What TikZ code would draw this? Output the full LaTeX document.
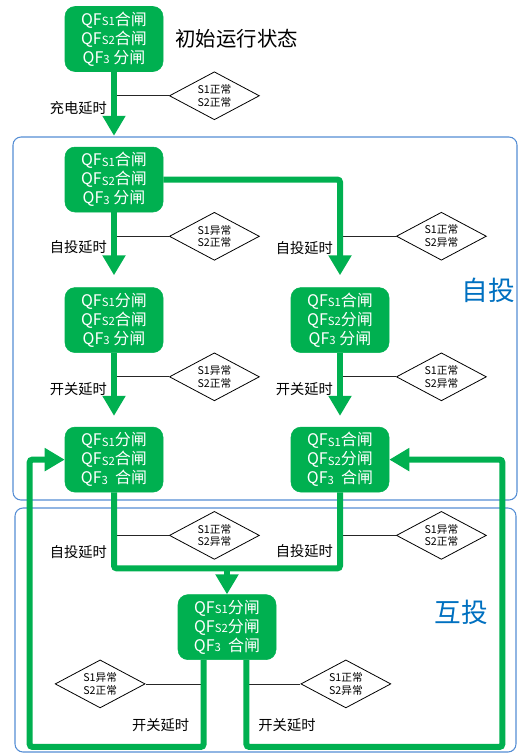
\documentclass[tikz,border=0pt]{standalone}
\usepackage{fontspec}
\setmainfont{Noto Sans CJK SC}
\usepackage{tikz}
\usetikzlibrary{shapes.geometric,positioning,arrows.meta,backgrounds,calc}
\definecolor{flowgreen}{RGB}{0,176,80}
\definecolor{zoneblue}{RGB}{84,141,212}
\definecolor{zonetext}{RGB}{0,112,192}
\newcommand{\qfs}[1]{QF\raisebox{-0.3pt}{\fontsize{8.5}{8.5}\selectfont #1}}
\tikzset{
  qfbox/.style={draw=flowgreen,fill=flowgreen,rounded corners=7.5pt,align=center,text=white,
    minimum width=73.5pt,minimum height=48.75pt,inner sep=2pt,font=\fontsize{12}{14.3}\selectfont},
  condbox/.style={diamond,draw,line width=0.6pt,fill=white,aspect=1.9,align=center,
    minimum width=67.5pt,minimum height=36pt,inner sep=1pt,font=\fontsize{8}{9.5}\selectfont},
  flowarr/.style={-{Triangle[length=15pt,width=16.5pt]},line width=4.5pt,draw=flowgreen,rounded corners=2pt},
  flowline/.style={line width=4.5pt,draw=flowgreen,rounded corners=2pt},
  condline/.style={line width=0.6pt,draw=black!85},
  delaylabel/.style={font=\fontsize{10.7}{12}\selectfont,inner sep=1pt},
  zoneframe/.style={draw=zoneblue,line width=0.8pt,rounded corners=6pt},
  zonelabel/.style={text=zonetext,font=\fontsize{20}{24}\selectfont}
}

\begin{document}
\begin{tikzpicture}[x=0.75pt, y=-0.75pt, node distance=56.25pt and 95.6pt]
  \useasboundingbox (0,0) rectangle (518,754);
  % switch states
  \node[qfbox] (b0) at (114,39) {\qfs{S1}合闸\\\qfs{S2}合闸\\\qfs{3} 分闸};
  \node[right=9pt of b0,inner sep=0pt,font=\fontsize{15.3}{18}\selectfont] (title) {初始运行状态};
  \node[qfbox,below=of b0] (b1) {\qfs{S1}合闸\\\qfs{S2}合闸\\\qfs{3} 分闸};
  \node[qfbox,below=of b1] (b2l) {\qfs{S1}分闸\\\qfs{S2}合闸\\\qfs{3} 分闸};
  \node[qfbox,right=of b2l] (b2r) {\qfs{S1}合闸\\\qfs{S2}分闸\\\qfs{3} 分闸};
  \node[qfbox,below=55.5pt of b2l] (b3l) {\qfs{S1}分闸\\\qfs{S2}合闸\\\qfs{3}\ \ 合闸};
  \node[qfbox,right=of b3l] (b3r) {\qfs{S1}合闸\\\qfs{S2}分闸\\\qfs{3}\ \ 合闸};
  \coordinate (mid) at ($(b3l.south)!0.5!(b3r.south)$);
  \coordinate[below=57pt of mid] (merge);
  \node[qfbox,below=19.5pt of merge] (b4) {\qfs{S1}分闸\\\qfs{S2}分闸\\\qfs{3}\ \ 合闸};
  \coordinate (outl) at ([xshift=-17.6pt]b4.south);
  \coordinate (outr) at ([xshift=14.6pt]b4.south);
  \coordinate (bot) at ([yshift=-65.25pt]b4.south);
  \coordinate (lcol) at ([xshift=-26.25pt]b3l.west);
  \coordinate (rcol) at ([xshift=84.75pt]b3r.east);

  % transitions
  \draw[flowarr,shorten >=8.25pt] (b0) -- coordinate[pos=0.32] (k0) node[delaylabel,pos=0.48,left=2pt]{充电延时} (b1);
  \draw[flowarr,shorten >=9pt] (b1) -- coordinate[pos=0.32] (k1) node[delaylabel,pos=0.47,left=2pt]{自投延时} (b2l);
  \draw[flowarr,shorten >=9pt] (b1.east) -| coordinate[pos=0.763] (k2) node[delaylabel,pos=0.819,left=2pt]{自投延时} (b2r);
  \draw[flowarr,shorten >=8.25pt] (b2l) -- coordinate[pos=0.324] (k3) node[delaylabel,pos=0.486,left=2pt]{开关延时} (b3l);
  \draw[flowarr,shorten >=8.25pt] (b2r) -- coordinate[pos=0.324] (k4) node[delaylabel,pos=0.486,left=2pt]{开关延时} (b3r);
  \draw[flowline] (b3l.south) -- coordinate[pos=0.566] (k5) node[delaylabel,pos=0.78,left=2pt]{自投延时} (b3l.south |- merge)
    -- (b3r.south |- merge) -- coordinate[pos=0.434] (k6) node[delaylabel,pos=0.224,left=2pt]{自投延时} (b3r.south);
  \draw[flowarr] (merge) -- (b4);
  \draw[flowarr] (outl) -- coordinate[pos=0.276] (k7) node[delaylabel,pos=0.747,left=7.5pt]{开关延时} (outl |- bot) -| (lcol) -- (b3l.west);
  \draw[flowarr] (outr) -- coordinate[pos=0.276] (k8) node[delaylabel,pos=0.747,right=5.75pt]{开关延时} (outr |- bot) -| (rcol) -- (b3r.east);

  % conditions
  \node[condbox,right=41.25pt of k0] (d0) {S1正常\\S2正常};
  \node[condbox,right=41.25pt of k1] (d1) {S1异常\\S2正常};
  \node[condbox,right=42pt of k2] (d2) {S1正常\\S2异常};
  \node[condbox,right=41.25pt of k3] (d3) {S1异常\\S2正常};
  \node[condbox,right=42pt of k4] (d4) {S1正常\\S2异常};
  \node[condbox,right=41.25pt of k5] (d5) {S1正常\\S2异常};
  \node[condbox,right=42pt of k6] (d6) {S1异常\\S2正常};
  \node[condbox,left=43.5pt of k7] (d7) {S1异常\\S2正常};
  \node[condbox,right=40.5pt of k8] (d8) {S1正常\\S2异常};

  \node[zonelabel] (zitou) at (488,290) {自投};
  \node[zonelabel] (hutou) at (461,612) {互投};

  \begin{scope}[on background layer]
    \draw[zoneframe] (13,137) rectangle (517,500);
    \draw[zoneframe] (15,508) rectangle (516,752);
    \foreach \k/\d in {k0/d0,k1/d1,k2/d2,k3/d3,k4/d4,k5/d5,k6/d6,k8/d8}
      \draw[condline] (\k) -- (\d.west);
    \draw[condline] (k7) -- (d7.east);
  \end{scope}
\end{tikzpicture}
\end{document}
